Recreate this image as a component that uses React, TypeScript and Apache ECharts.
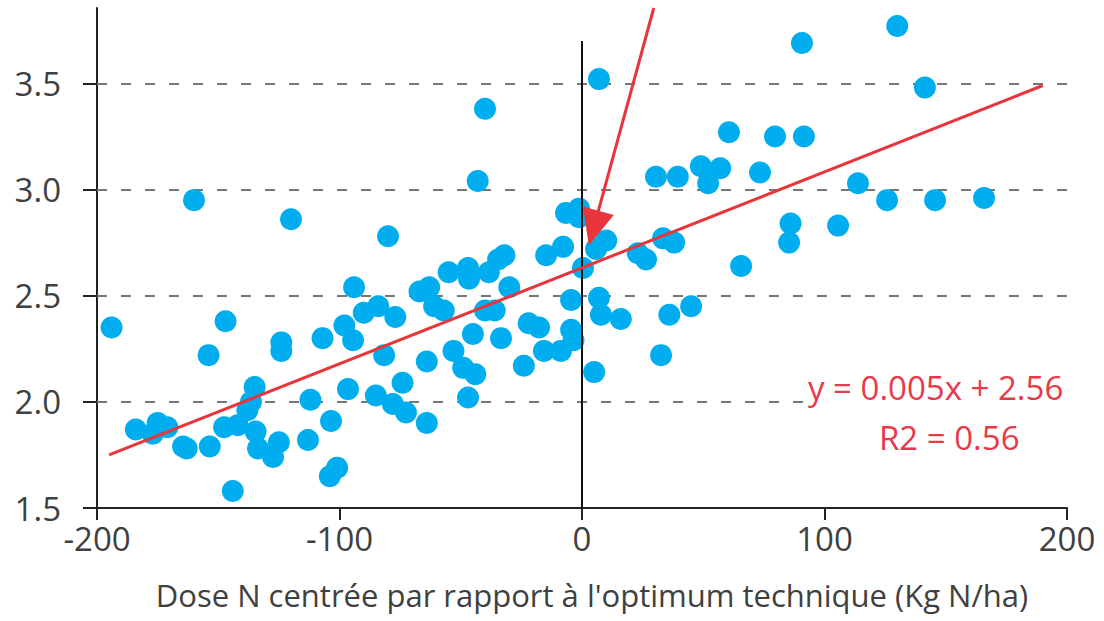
import { useEffect, useRef } from 'react';
import * as echarts from 'echarts';

// Dose N centrée (kg N/ha) and corresponding values, grouped by region of the plot
const doseLow = [-194, -160, -120, -147, -154, -124, -124, -107, -98, -135, -136.5, -138, -112, -103.5, -184, -175, -177, -171, -164.5, -163, -153.5, -147.6, -142, -134.6, -133.6, -127.4, -125, -113, -104, -101, -144];
const valueLow = [2.35, 2.95, 2.86, 2.38, 2.22, 2.28, 2.24, 2.30, 2.36, 2.07, 2.00, 1.96, 2.01, 1.91, 1.87, 1.90, 1.85, 1.88, 1.79, 1.78, 1.79, 1.88, 1.89, 1.86, 1.78, 1.74, 1.81, 1.82, 1.65, 1.69, 1.58];

const doseMid = [-80, -55, -47, -46.6, -94, -67, -63, -61, -57, -40, -90, -84, -77, -94.4, -81.6, -64, -45, -53, -49, -44, -96.5, -85, -78, -74, -72.6, -47, -64, -40, -43];
const valueMid = [2.78, 2.61, 2.63, 2.58, 2.54, 2.52, 2.54, 2.45, 2.43, 2.43, 2.42, 2.45, 2.40, 2.29, 2.22, 2.19, 2.32, 2.24, 2.16, 2.13, 2.06, 2.03, 1.99, 2.09, 1.95, 2.02, 1.90, 3.38, 3.04];

const doseNearOpt = [-6.6, -1.2, -1.2, -7.8, -14.8, -32, -34.6, -38.4, 0.4, -30, -4.5, -36, -22, -17.7, -33.4, -15.7, -8.7, -4.5, -24, -3.5];
const valueNearOpt = [2.89, 2.91, 2.87, 2.73, 2.69, 2.69, 2.67, 2.61, 2.63, 2.54, 2.48, 2.43, 2.37, 2.35, 2.30, 2.24, 2.24, 2.34, 2.17, 2.29];

const doseHigh = [7, 5.8, 10, 7, 7.8, 16, 5, 23, 26.4, 33.4, 38, 36, 45, 32.6, 30.5, 39.5, 49, 57, 52, 60.6, 73.4, 65.6, 79.6, 91.5, 90.7, 86, 85.4, 105.6, 113.8, 125.8, 130, 141.4, 145.6, 165.8];
const valueHigh = [3.52, 2.72, 2.76, 2.49, 2.41, 2.39, 2.14, 2.70, 2.67, 2.77, 2.75, 2.41, 2.45, 2.22, 3.06, 3.06, 3.11, 3.10, 3.03, 3.27, 3.08, 2.64, 3.25, 3.25, 3.69, 2.84, 2.75, 2.83, 3.03, 2.95, 3.77, 3.48, 2.95, 2.96];

// Regression line endpoints
const regDose = [-195, 190];
const regValue = [1.75, 3.49];

// Arrow (start, end) and optimum marker line
const arrowDose = [29.6, 4.8];
const arrowValue = [3.855, 2.818];
const optimumLine = [1.5, 3.7];

const yTicks = [1.5, 2.0, 2.5, 3.0, 3.5];
const gridValues = [2.0, 2.5, 3.0, 3.5];

const equationText = 'y = 0.005x + 2.56';
const r2Text = 'R2 = 0.56';
const xTitle = "Dose N centrée par rapport à l'optimum technique (Kg N/ha)";

const FONT = '"Open Sans", "Noto Sans", sans-serif';
const TEXT_COLOR = '#404040';
const AXIS_COLOR = '#222222';
const RED = '#E8353B';

function zip(xs: number[], ys: number[]) {
  return xs.map((x, i) => [x, ys[i]]);
}

export default function App() {
  const ref = useRef<HTMLDivElement>(null);

  useEffect(() => {
    if (!ref.current) return;
    const chart = echarts.init(ref.current, null, { renderer: 'svg' });
    const points = [
      ...zip(doseLow, valueLow),
      ...zip(doseMid, valueMid),
      ...zip(doseNearOpt, valueNearOpt),
      ...zip(doseHigh, valueHigh),
    ];
    const option: any = {
      animation: false,
      backgroundColor: '#ffffff',
      grid: { left: 97, right: 37, top: 8, bottom: 113, containLabel: false },
      xAxis: {
        type: 'value',
        min: -200,
        max: 200,
        interval: 100,
        axisLine: { show: true, onZero: false, lineStyle: { color: AXIS_COLOR, width: 2 } },
        axisTick: { show: true, inside: false, length: 12, lineStyle: { color: AXIS_COLOR, width: 2 } },
        axisLabel: { color: TEXT_COLOR, fontSize: 33, fontFamily: FONT, margin: 14 },
        splitLine: { show: false },
        name: xTitle,
        nameLocation: 'middle',
        nameGap: 71,
        nameTextStyle: { color: TEXT_COLOR, fontSize: 31, fontFamily: FONT, padding: [0, 0, 0, 20] },
      },
      yAxis: {
        type: 'value',
        min: 1.5,
        max: 3.855,
        interval: 0.5,
        axisLine: { show: true, onZero: false, lineStyle: { color: AXIS_COLOR, width: 2 } },
        axisTick: { show: true, inside: false, length: 14, customValues: yTicks, lineStyle: { color: AXIS_COLOR, width: 2 } },
        axisLabel: {
          customValues: yTicks,
          color: TEXT_COLOR,
          fontSize: 33,
          fontFamily: FONT,
          margin: 36,
          formatter: (v: number) => v.toFixed(1),
        },
        splitLine: { show: false },
      },
      series: [
        {
          type: 'scatter',
          data: points,
          symbol: 'circle',
          symbolSize: 22,
          itemStyle: { color: '#00AEEF', opacity: 1 },
          z: 3,
          markLine: {
            silent: true,
            symbol: 'none',
            label: { show: false },
            lineStyle: { color: '#777777', width: 2, type: [10, 14] },
            z: 1,
            data: gridValues.map((v) => ({ yAxis: v })),
          },
        },
        {
          type: 'line',
          data: zip(regDose, regValue),
          showSymbol: false,
          symbol: 'none',
          clip: false,
          lineStyle: { color: RED, width: 3 },
          z: 5,
          markLine: {
            silent: true,
            label: { show: false },
            animation: false,
            data: [
              [
                { coord: [0, optimumLine[0]], symbol: 'none', lineStyle: { color: '#111111', width: 2, type: 'solid' } },
                { coord: [0, optimumLine[1]], symbol: 'none' },
              ],
              [
                { coord: [arrowDose[0], arrowValue[0]], symbol: 'none', lineStyle: { color: RED, width: 3, type: 'solid' } },
                { coord: [arrowDose[1], arrowValue[1]], symbol: 'triangle', symbolSize: [32, 36] },
              ],
            ],
          },
        },
      ],
      graphic: [
        {
          type: 'text',
          left: 804,
          top: 369,
          z: 10,
          style: {
            text: equationText,
            fill: '#E8394A',
            font: `33px ${FONT}`,
            backgroundColor: '#ffffff',
            padding: [2, 4, 2, 4],
          },
        },
        {
          type: 'text',
          left: 879,
          top: 421,
          z: 10,
          style: {
            text: r2Text,
            fill: '#E8394A',
            font: `33px ${FONT}`,
          },
        },
      ],
    };
    chart.setOption(option);
    return () => chart.dispose();
  }, []);

  return (
    <div
      ref={ref}
      style={{ position: 'fixed', left: 0, top: 0, width: 1104, height: 621, background: '#fff' }}
    />
  );
}
